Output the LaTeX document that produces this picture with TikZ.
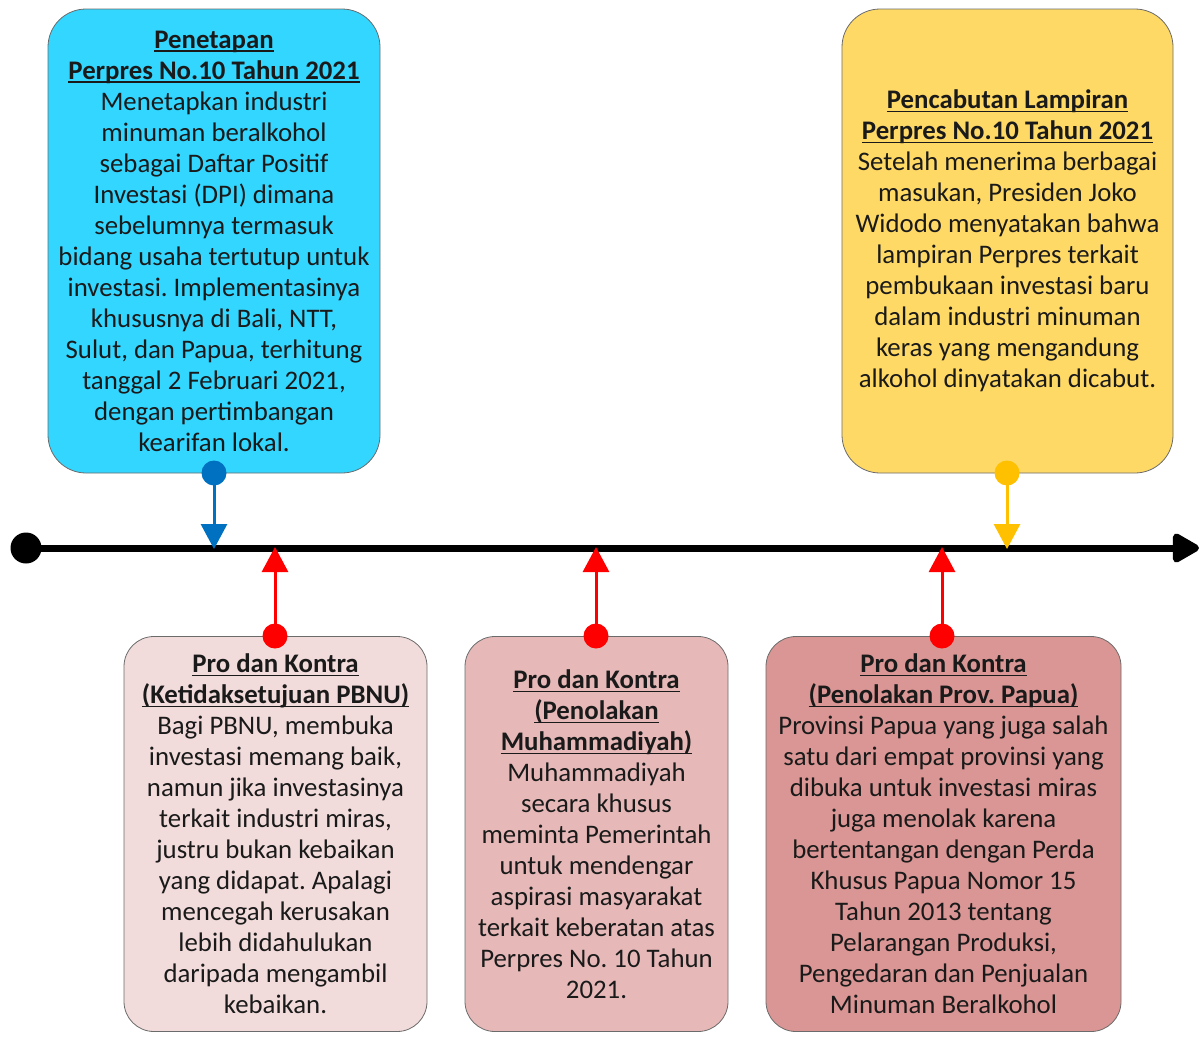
\documentclass[tikz,border=0pt]{standalone}
\usepackage{fontspec}
\setmainfont{Carlito}
\usetikzlibrary{arrows.meta}
\frenchspacing
\definecolor{bluefill}{HTML}{33D6FF}
\definecolor{yellowfill}{HTML}{FFD966}
\definecolor{pinkA}{HTML}{F2DCDB}
\definecolor{pinkB}{HTML}{E6B9B8}
\definecolor{pinkC}{HTML}{D99694}
\definecolor{boxline}{HTML}{6B6B6B}
\definecolor{txt}{HTML}{1A1A1A}
\definecolor{mblue}{HTML}{0070C0}
\definecolor{mred}{HTML}{FF0000}
\definecolor{myellow}{HTML}{FFC000}
\newcommand\ulh[1]{\setbox0\hbox{#1}\rlap{\rule[-3.5pt]{\wd0}{1.3pt}}\box0}
\tikzset{
  tbox/.style={rectangle, rounded corners=38pt, draw=boxline, line width=0.8pt,
    align=center, inner sep=0pt, text=txt, font=\fontsize{26.8}{31}\selectfont},
  pbox/.style={tbox, rounded corners=30pt},
  dot/.style={circle, fill=#1, inner sep=0pt, minimum size=25pt},
  conn/.style={draw=#1, line width=3pt, -{Triangle[length=25pt,width=26pt]}, shorten <=-2pt},
}
\begin{document}
\begin{tikzpicture}[x=1pt,y=-1pt]
\useasboundingbox (0,0) rectangle (1199,1036);

% boxes
\node[tbox, fill=bluefill, minimum width=332pt, minimum height=464pt] (b1) at (214,241)
{\ulh{\textbf{Penetapan}}\\
\ulh{\textbf{Perpres No.10 Tahun 2021}}\\
Menetapkan industri\\ minuman beralkohol\\ sebagai Daftar Positif\\ Investasi (DPI) dimana\\ sebelumnya termasuk\\ bidang usaha tertutup untuk\\ investasi. Implementasinya\\ khususnya di Bali, NTT,\\ Sulut, dan Papua, terhitung\\ tanggal 2 Februari 2021,\\ dengan pertimbangan\\ kearifan lokal.};

\node[tbox, fill=yellowfill, minimum width=331pt, minimum height=464pt] (b2) at (1007.5,241)
{\ulh{\textbf{Pencabutan Lampiran}}\\
\ulh{\textbf{Perpres No.10 Tahun 2021}}\\
Setelah menerima berbagai\\ masukan, Presiden Joko\\ Widodo menyatakan bahwa\\ lampiran Perpres terkait\\ pembukaan investasi baru\\ dalam industri minuman\\ keras yang mengandung\\ alkohol dinyatakan dicabut.};

\node[pbox, fill=pinkA, minimum width=303pt, minimum height=395pt] (p1) at (275.5,834)
{\ulh{\textbf{Pro dan Kontra}}\\
\ulh{\textbf{(Ketidaksetujuan PBNU)}}\\
Bagi PBNU, membuka\\ investasi memang baik,\\ namun jika investasinya\\ terkait industri miras,\\ justru bukan kebaikan\\ yang didapat. Apalagi\\ mencegah kerusakan\\ lebih didahulukan\\ daripada mengambil\\ kebaikan.};

\node[pbox, fill=pinkB, minimum width=263pt, minimum height=395pt] (p2) at (596.5,834)
{\ulh{\textbf{Pro dan Kontra}}\\
\ulh{\textbf{(Penolakan}}\\
\ulh{\textbf{Muhammadiyah)}}\\
Muhammadiyah\\ secara khusus\\ meminta Pemerintah\\ untuk mendengar\\ aspirasi masyarakat\\ terkait keberatan atas\\ Perpres No. 10 Tahun\\ 2021.};

\node[pbox, fill=pinkC, minimum width=355pt, minimum height=395pt] (p3) at (943.5,834)
{\ulh{\textbf{Pro dan Kontra}}\\
\ulh{\textbf{(Penolakan Prov. Papua)}}\\
Provinsi Papua yang juga salah\\ satu dari empat provinsi yang\\ dibuka untuk investasi miras\\ juga menolak karena\\ bertentangan dengan Perda\\ Khusus Papua Nomor 15\\ Tahun 2013 tentang\\ Pelarangan Produksi,\\ Pengedaran dan Penjualan\\ Minuman Beralkohol};

% timeline
\node[circle, fill=black, inner sep=0pt, minimum size=31pt] (start) at (26,548) {};
\coordinate (end) at (1199,548);
\draw[line width=7pt, -{Triangle[length=30pt,width=32pt,line join=round]}] (start.center) -- (end);

% connection points on timeline
\coordinate (t1) at (214,549);
\coordinate (t2) at (275,547);
\coordinate (t3) at (596,547);
\coordinate (t4) at (942,547);
\coordinate (t5) at (1007,549);

% dots
\node[dot=mblue] (d1) at (214,473) {};
\node[dot=myellow] (d5) at (1007,473) {};
\node[dot=mred] (d2) at (275,636) {};
\node[dot=mred] (d3) at (596,636) {};
\node[dot=mred] (d4) at (942,636) {};

% connectors
\draw[conn=mblue] (d1.center) -- (t1);
\draw[conn=myellow] (d5.center) -- (t5);
\draw[conn=mred] (d2.center) -- (t2);
\draw[conn=mred] (d3.center) -- (t3);
\draw[conn=mred] (d4.center) -- (t4);
\end{tikzpicture}
\end{document}
